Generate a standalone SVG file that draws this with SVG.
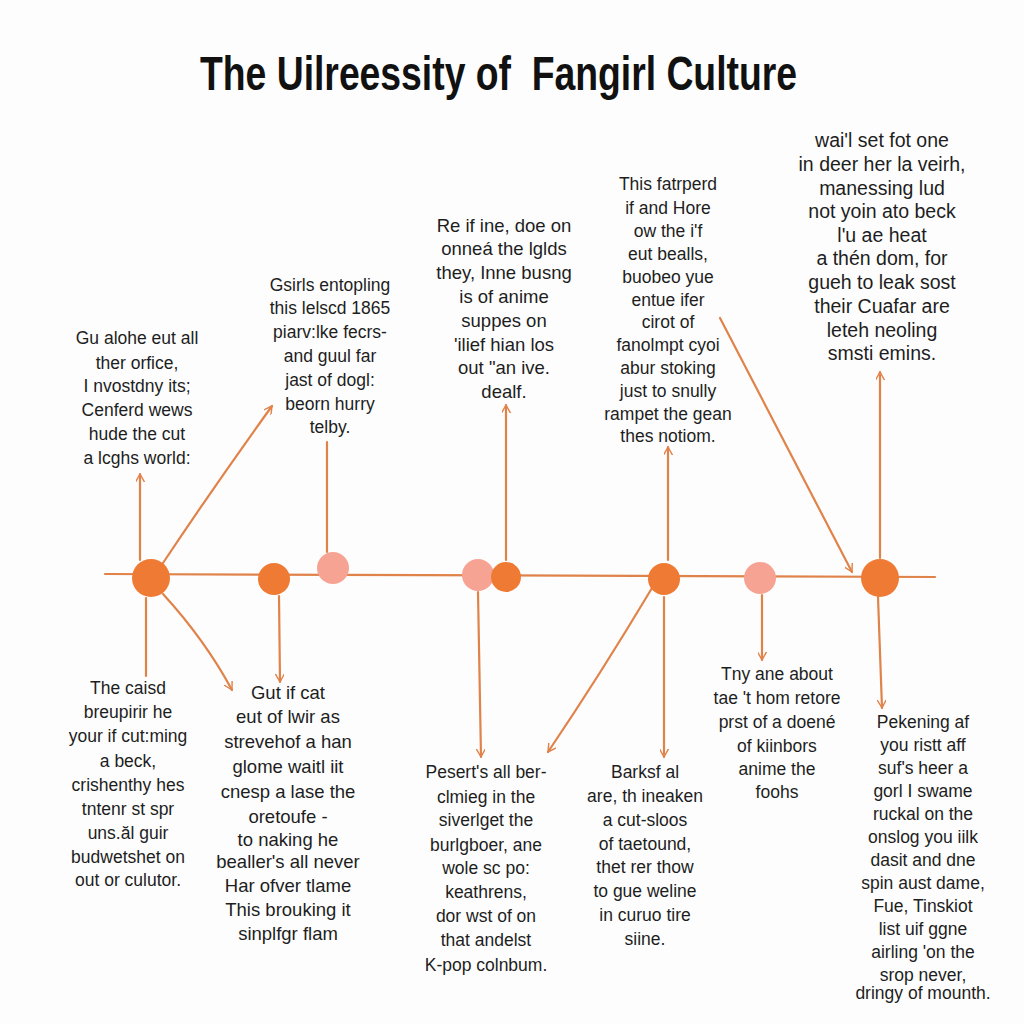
<svg xmlns="http://www.w3.org/2000/svg" width="1024" height="1024" viewBox="0 0 1024 1024">
<defs>
<marker id="ah" viewBox="0 0 10 10" refX="9" refY="5" markerWidth="9" markerHeight="9" markerUnits="userSpaceOnUse" orient="auto">
<path d="M0,0 L9,5 L0,10" fill="none" stroke="#e0834a" stroke-width="1.6" stroke-linecap="round" stroke-linejoin="round"/>
</marker>
<style>
.title{font-family:"Liberation Sans","DejaVu Sans",sans-serif;font-weight:bold;font-size:48px;fill:#111;}
.t{font-family:"Liberation Sans","DejaVu Sans",sans-serif;font-size:17.5px;fill:#1e1e1e;text-anchor:middle;}
.big{font-size:19.5px;}
.mid{font-size:18.5px;}
.ln{fill:none;stroke:#e0834a;stroke-width:2.2;stroke-linecap:round;}
.ar{marker-end:url(#ah);}
.dk{fill:#ee7a34;}
.pk{fill:#f7a394;}
</style>
</defs>
<rect width="1024" height="1024" fill="#fdfdfd"/>
<text class="title" x="200" y="90" textLength="597" lengthAdjust="spacingAndGlyphs">The Uilreessity of&#160; Fangirl Culture</text>

<g id="connectors">
<path class="ln" d="M105,574 L935,577"/>
<path class="ln ar" d="M140,560 L140,474"/>
<path class="ln ar" d="M163,563 Q215,485 272,406"/>
<path class="ln ar" d="M163,594 Q205,640 232,690"/>
<path class="ln" d="M146,598 L146,676"/>
<path class="ln ar" d="M279,596 L280,682"/>
<path class="ln" d="M327,552 L327,442"/>
<path class="ln ar" d="M478,592 L481,757"/>
<path class="ln ar" d="M506,560 L506,405"/>
<path class="ln ar" d="M652,588 Q600,675 548,752"/>
<path class="ln ar" d="M664,597 L664,757"/>
<path class="ln ar" d="M668,560 L668,447"/>
<path class="ln ar" d="M720,318 L852,572"/>
<path class="ln ar" d="M762,595 L762,660"/>
<path class="ln ar" d="M880,558 L880,372"/>
<path class="ln ar" d="M878,597 L882,708"/>
</g>

<g id="node1"><circle class="dk" cx="151" cy="578" r="19"/></g>
<g id="node2"><circle class="dk" cx="274" cy="579" r="16"/></g>
<g id="node3"><circle class="pk" cx="333" cy="568" r="16"/></g>
<g id="node4"><circle class="pk" cx="478" cy="575" r="16"/></g>
<g id="node5"><circle class="dk" cx="506" cy="577" r="15"/></g>
<g id="node6"><circle class="dk" cx="664" cy="579" r="16"/></g>
<g id="node7"><circle class="pk" cx="760" cy="578" r="16"/></g>
<g id="node8"><circle class="dk" cx="880" cy="578" r="19"/></g>

<g id="textA">
<text class="t" x="137" y="344">Gu alohe eut all</text>
<text class="t" x="137" y="369">ther orfice,</text>
<text class="t" x="137" y="392">I nvostdny its;</text>
<text class="t" x="137" y="416">Cenferd wews</text>
<text class="t" x="137" y="440">hude the cut</text>
<text class="t" x="137" y="464">a lcghs world:</text>
</g>
<g id="textB">
<text class="t" x="330" y="291">Gsirls entopling</text>
<text class="t" x="330" y="314">this lelscd 1865</text>
<text class="t" x="330" y="338">piarv:lke fecrs-</text>
<text class="t" x="330" y="362">and guul far</text>
<text class="t" x="330" y="386">jast of dogl:</text>
<text class="t" x="330" y="410">beorn hurry</text>
<text class="t" x="330" y="433">telby.</text>
</g>
<g id="textC">
<text class="t mid" x="504" y="232">Re if ine, doe on</text>
<text class="t mid" x="504" y="255">onneá the lglds</text>
<text class="t mid" x="504" y="279">they, Inne busng</text>
<text class="t mid" x="504" y="303">is of anime</text>
<text class="t mid" x="504" y="327">suppes on</text>
<text class="t mid" x="504" y="351">'ilief hian los</text>
<text class="t mid" x="504" y="374">out "an ive.</text>
<text class="t mid" x="504" y="398">dealf.</text>
</g>
<g id="textD">
<text class="t" x="668" y="190">This fatrperd</text>
<text class="t" x="668" y="214">if and Hore</text>
<text class="t" x="668" y="237">ow the i'f</text>
<text class="t" x="668" y="260">eut bealls,</text>
<text class="t" x="668" y="283">buobeo yue</text>
<text class="t" x="668" y="306">entue ifer</text>
<text class="t" x="668" y="328">cirot of</text>
<text class="t" x="668" y="351">fanolmpt cyoi</text>
<text class="t" x="668" y="374">abur stoking</text>
<text class="t" x="668" y="397">just to snully</text>
<text class="t" x="668" y="420">rampet the gean</text>
<text class="t" x="668" y="442">thes notiom.</text>
</g>
<g id="textE">
<text class="t big" x="882" y="147">wai'l set fot one</text>
<text class="t big" x="882" y="171">in deer her la veirh,</text>
<text class="t big" x="882" y="195">manessing lud</text>
<text class="t big" x="882" y="218">not yoin ato beck</text>
<text class="t big" x="882" y="242">l'u ae heat</text>
<text class="t big" x="882" y="265">a thén dom, for</text>
<text class="t big" x="882" y="289">gueh to leak sost</text>
<text class="t big" x="882" y="313">their Cuafar are</text>
<text class="t big" x="882" y="337">leteh neoling</text>
<text class="t big" x="882" y="360">smsti emins.</text>
</g>
<g id="textF">
<text class="t" x="128" y="694">The caisd</text>
<text class="t" x="128" y="718">breupirir he</text>
<text class="t" x="128" y="742">your if cut:ming</text>
<text class="t" x="128" y="767">a beck,</text>
<text class="t" x="128" y="791">crishenthy hes</text>
<text class="t" x="128" y="815">tntenr st spr</text>
<text class="t" x="128" y="839">uns.ăl guir</text>
<text class="t" x="128" y="863">budwetshet on</text>
<text class="t" x="128" y="886">out or culutor.</text>
</g>
<g id="textG">
<text class="t mid" x="288" y="699">Gut if cat</text>
<text class="t mid" x="288" y="723">eut of lwir as</text>
<text class="t mid" x="288" y="748">strevehof a han</text>
<text class="t mid" x="288" y="773">glome waitl iit</text>
<text class="t mid" x="288" y="798">cnesp a lase the</text>
<text class="t mid" x="288" y="823">oretoufe -</text>
<text class="t mid" x="288" y="846">to naking he</text>
<text class="t mid" x="288" y="868">bealler's all never</text>
<text class="t mid" x="288" y="892">Har ofver tlame</text>
<text class="t mid" x="288" y="916">This brouking it</text>
<text class="t mid" x="288" y="940">sinplfgr flam</text>
</g>
<g id="textH">
<text class="t" x="486" y="778">Pesert's all ber-</text>
<text class="t" x="486" y="803">clmieg in the</text>
<text class="t" x="486" y="826">siverlget the</text>
<text class="t" x="486" y="851">burlgboer, ane</text>
<text class="t" x="486" y="874">wole sc po:</text>
<text class="t" x="486" y="898">keathrens,</text>
<text class="t" x="486" y="922">dor wst of on</text>
<text class="t" x="486" y="946">that andelst</text>
<text class="t" x="486" y="971">K-pop colnbum.</text>
</g>
<g id="textI">
<text class="t" x="645" y="778">Barksf al</text>
<text class="t" x="645" y="802">are, th ineaken</text>
<text class="t" x="645" y="826">a cut-sloos</text>
<text class="t" x="645" y="850">of taetound,</text>
<text class="t" x="645" y="873">thet rer thow</text>
<text class="t" x="645" y="897">to gue weline</text>
<text class="t" x="645" y="921">in curuo tire</text>
<text class="t" x="645" y="945">siine.</text>
</g>
<g id="textJ">
<text class="t" x="777" y="680">Tny ane about</text>
<text class="t" x="777" y="704">tae 't hom retore</text>
<text class="t" x="777" y="728">prst of a doené</text>
<text class="t" x="777" y="752">of kiinbors</text>
<text class="t" x="777" y="775">anime the</text>
<text class="t" x="777" y="798">foohs</text>
</g>
<g id="textK">
<text class="t" x="923" y="728">Pekening af</text>
<text class="t" x="923" y="751">you ristt aff</text>
<text class="t" x="923" y="774">suf's heer a</text>
<text class="t" x="923" y="797">gorl I swame</text>
<text class="t" x="923" y="820">ruckal on the</text>
<text class="t" x="923" y="843">onslog you iilk</text>
<text class="t" x="923" y="866">dasit and dne</text>
<text class="t" x="923" y="889">spin aust dame,</text>
<text class="t" x="923" y="912">Fue, Tinskiot</text>
<text class="t" x="923" y="935">list uif ggne</text>
<text class="t" x="923" y="958">airling 'on the</text>
<text class="t" x="923" y="981">srop never,</text>
<text class="t" x="923" y="999">dringy of mounth.</text>
</g>
</svg>
